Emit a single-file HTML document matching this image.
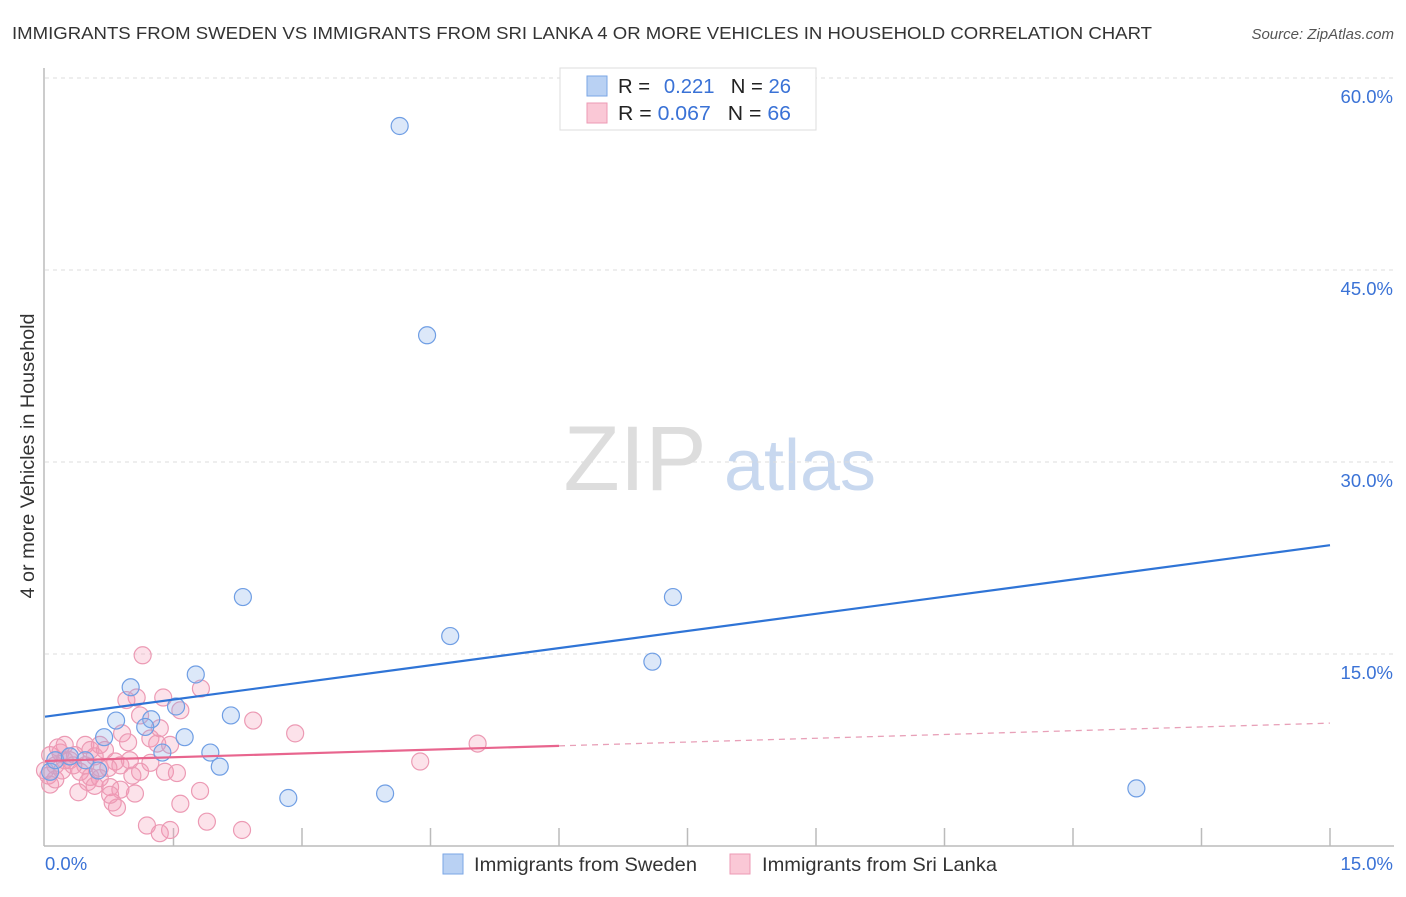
<!DOCTYPE html>
<html><head><meta charset="utf-8"><style>
body{margin:0;background:#fff;font-family:"Liberation Sans",sans-serif;}
svg text{font-family:"Liberation Sans",sans-serif;}
</style></head><body>
<svg id="chart" width="1406" height="892" viewBox="0 0 1406 892">
<text x="12" y="39" font-size="17.5" fill="#333" textLength="1140" lengthAdjust="spacingAndGlyphs">IMMIGRANTS FROM SWEDEN VS IMMIGRANTS FROM SRI LANKA 4 OR MORE VEHICLES IN HOUSEHOLD CORRELATION CHART</text>
<text x="1394" y="39" font-size="15" fill="#555" font-style="italic" text-anchor="end">Source: ZipAtlas.com</text>
<text x="34" y="456" font-size="19" fill="#333" text-anchor="middle" textLength="285" lengthAdjust="spacingAndGlyphs" transform="rotate(-90 34 456)">4 or more Vehicles in Household</text>
<g><text x="635" y="490" font-size="92" fill="#ddd" font-family="Liberation Serif" text-anchor="middle">ZIP</text><text x="800" y="490" font-size="72" fill="#c8d8ef" text-anchor="middle">atlas</text></g>
<g id="grid"></g><g id="axes"></g><g id="pts"></g><g id="lines"></g>
<g>
<rect x="560" y="68" width="256" height="62" fill="#fff" stroke="#ddd"/>
<rect x="587" y="76" width="20" height="20" fill="#b9d1f3" stroke="#7aa6e6"/>
<rect x="587" y="103" width="20" height="20" fill="#fac8d6" stroke="#ec9ab4"/>
<text x="618" y="93" font-size="20" fill="#222" textLength="173" lengthAdjust="spacingAndGlyphs">R = <tspan fill="#3a72d6" dx="8">0.221</tspan><tspan dx="16" fill="#222">N = </tspan><tspan fill="#3a72d6">26</tspan></text>
<text x="618" y="120" font-size="20" fill="#222" textLength="173" lengthAdjust="spacingAndGlyphs">R = <tspan fill="#3a72d6">0.067</tspan><tspan dx="16" fill="#222">N = </tspan><tspan fill="#3a72d6">66</tspan></text>
</g>
<g>
<rect x="443" y="854" width="20" height="20" fill="#b9d1f3" stroke="#7aa6e6"/>
<text x="474" y="871" font-size="19.5" fill="#333" textLength="223" lengthAdjust="spacingAndGlyphs">Immigrants from Sweden</text>
<rect x="730" y="854" width="20" height="20" fill="#fac8d6" stroke="#ec9ab4"/>
<text x="762" y="871" font-size="19.5" fill="#333" textLength="235" lengthAdjust="spacingAndGlyphs">Immigrants from Sri Lanka</text>
</g>
</svg>
<script>
const swedenX=[4.14,4.46,2.31,7.33,4.73,7.09,1.0,1.76,1.53,0.83,1.24,2.17,1.17,0.69,1.63,1.37,1.93,2.04,0.62,2.84,3.97,12.74,0.06,0.12,0.29,0.47];
const swedenY=[56.25,39.9,19.45,19.45,16.4,14.4,12.4,13.4,10.9,9.8,9.9,10.2,9.3,8.5,8.5,7.3,7.3,6.2,5.9,3.75,4.1,4.5,5.8,6.7,7.0,6.7];
const lankaX=[1.14,1.82,1.07,1.38,0.95,1.58,2.43,1.11,1.34,0.90,1.23,2.92,0.97,1.31,0.47,0.23,0.70,5.05,0.06,0.18,0.35,0.58,0.82,0.88,1.23,4.38,0.12,0.47,0.64,0.74,1.11,1.40,1.54,0.41,0.53,1.02,0.50,0.58,0.76,0.39,1.05,1.81,0.06,0.04,0.12,0.79,0.84,1.58,1.89,1.19,1.46,1.34,2.30,0.29,0.20,0.64,0.88,0.64,0.23,0.33,0,0.15,0.53,0.99,0.76,1.46];
const lankaY=[14.9,12.3,11.6,11.6,11.4,10.6,9.8,10.2,9.2,8.8,8.4,8.8,8.1,8.0,7.9,7.9,7.5,8.0,7.1,7.3,7.1,7.0,6.6,6.3,6.5,6.6,6.3,6.3,6.1,6.1,5.8,5.8,5.7,5.8,5.4,5.5,5.0,4.7,4.6,4.2,4.1,4.3,4.8,5.5,5.2,3.4,3.0,3.3,1.9,1.6,1.25,1.0,1.25,6.7,5.9,5.3,4.4,7.9,6.7,6.3,5.9,7.7,7.5,6.7,4.0,7.9];
const swedenTrend=[10.1,23.5];
const lankaTrend=[6.64,9.6];
const yTicks=[15,30,45,60];
const xTickLabels=["0.0%","15.0%"];
const NS="http://www.w3.org/2000/svg";
const X0=45,X1=1330,Y0=846,YTOP=78;
const sx=v=>X0+(X1-X0)*v/15;
const sy=v=>Y0-(Y0-YTOP)*v/60;
function mk(t,a,p){const e=document.createElementNS(NS,t);for(const k in a)e.setAttribute(k,a[k]);p.appendChild(e);return e;}
const grid=document.getElementById('grid'),axes=document.getElementById('axes');
yTicks.forEach(v=>{
 const l=mk('line',{x1:X0,x2:1394,y1:sy(v),y2:sy(v),stroke:'#ddd','stroke-dasharray':'4 4'},grid);
 
 
 const t=mk('text',{x:1393,y:sy(v)+25,'font-size':18.5,fill:'#3a72d6','text-anchor':'end'},grid);
 t.textContent=v.toFixed(1)+'%';
 
 
});
mk('line',{x1:44,x2:44,y1:68,y2:846,stroke:'#bbb','stroke-width':1.5},axes);
mk('line',{x1:44,x2:1394,y1:846,y2:846,stroke:'#bbb','stroke-width':1.5},axes);
for(let i=1;i<=10;i++){const x=sx(i*1.5);const t=mk('line',{x1:x,x2:x,y1:828,y2:846,stroke:'#bbb','stroke-width':1.5},axes);
 
 }
[[0,'start',45],[15,'end',1393]].forEach((d,i)=>{const t=mk('text',{x:d[2],y:870,'font-size':18.5,fill:'#3a72d6','text-anchor':d[1]},axes);t.textContent=xTickLabels[i];
 
 });
const pts=document.getElementById('pts');
lankaX.forEach((x,i)=>{const c=mk('circle',{cx:sx(x),cy:sy(lankaY[i]),r:8.5,fill:'rgba(244,150,178,0.28)',stroke:'#ec9ab4','stroke-width':1.2},pts);
 
 });
swedenX.forEach((x,i)=>{const c=mk('circle',{cx:sx(x),cy:sy(swedenY[i]),r:8.5,fill:'rgba(140,180,235,0.3)',stroke:'#6f9ee4','stroke-width':1.2},pts);
 
 });
const lines=document.getElementById('lines');
const bl=mk('line',{x1:sx(0),y1:sy(swedenTrend[0]),x2:sx(15),y2:sy(swedenTrend[1]),stroke:'#2f74d6','stroke-width':2.2},lines);


const mid=lankaTrend[0]+(lankaTrend[1]-lankaTrend[0])*6/15;
const pl=mk('line',{x1:sx(0),y1:sy(lankaTrend[0]),x2:sx(6),y2:sy(mid),stroke:'#e8658e','stroke-width':2.2},lines);


const pd=mk('line',{x1:sx(6),y1:sy(mid),x2:sx(15),y2:sy(lankaTrend[1]),stroke:'#e8a0b8','stroke-width':1.3,'stroke-dasharray':'6 5'},lines);


</script>
</body></html>
